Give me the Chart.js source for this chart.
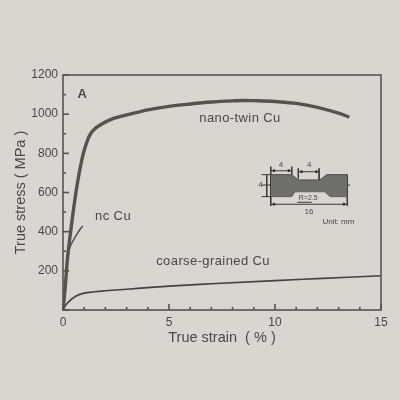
<!DOCTYPE html>
<html>
<head>
<meta charset="utf-8">
<script src="https://cdn.jsdelivr.net/npm/chart.js@4"></script>
<style>
  html, body { margin: 0; padding: 0; background: #d9d5cf; }
  canvas { display: block; filter: blur(0.6px); }
</style>
</head>
<body>
<canvas id="stressChart" width="400" height="400"></canvas>
<script>
const nanoStrain = [0, 0.1, 0.2, 0.36, 0.61, 0.8, 0.96, 1.15, 1.3, 1.55, 1.83, 2.3, 3.16, 4, 5, 6, 7, 8, 8.5, 9, 10, 11, 12, 13, 13.5];
const nanoStress = [0, 110, 250, 400, 600, 720, 800, 865, 900, 930, 950, 975, 1000, 1022, 1040, 1052, 1062, 1068, 1070, 1069, 1065, 1055, 1035, 1005, 985];

const ncStrain = [0, 0.1, 0.2, 0.3, 0.46, 0.7, 0.93];
const ncStress = [0, 130, 240, 310, 350, 395, 430];

const coarseStrain = [0, 0.1, 0.3, 0.6, 0.95, 1.5, 2, 3, 5, 7, 10, 12, 15];
const coarseStress = [0, 20, 45, 70, 85, 93, 98, 106, 122, 134, 150, 160, 175];

const xMajor = [0, 5, 10, 15];
const xMinor = [1, 2, 3, 4, 6, 7, 8, 9, 11, 12, 13, 14];
const yMajor = [0, 200, 400, 600, 800, 1000, 1200];
const yMinor = [100, 300, 500, 700, 900, 1100];

// inset specimen drawing, in axis units
const shapeTopX = [9.80, 10.79, 11.10, 12.12, 12.44, 13.41];
const shapeTopY = [691, 691, 664, 664, 691, 691];
const shapeBottomX = [9.80, 10.79, 10.94, 12.36, 12.59, 13.41];
const shapeBottomY = [579, 579, 604, 604, 579, 579];
const dimX = [9.37, 13.54, null, 9.80, 9.80, null, 13.41, 13.41, null, 10.79, 10.79, null, 11.10, 11.10, null, 12.08, 12.08, null, 9.80, 10.79, null, 11.10, 12.08, null, 9.80, 13.41, null, 9.61, 9.61, null, 9.37, 9.80, null, 9.37, 9.80, null, 11.05, 11.73];
const dimY = [638, 638, null, 732, 531, null, 691, 531, null, 732, 691, null, 723, 672, null, 723, 664, null, 711, 711, null, 706, 706, null, 540, 540, null, 691, 579, null, 691, 691, null, 579, 579, null, 550, 550];
const dotX = [9.95, 13.25, 9.95, 10.65, 11.25, 11.95];
const dotY = [540, 540, 711, 711, 706, 706];

const noteText = ["A", "nc Cu", "nano-twin Cu", "coarse-grained Cu", "4", "4", "4", "16", "R=2.5", "Unit: mm"];
const noteX = [0.9, 2.36, 8.35, 7.08, 10.28, 11.62, 9.32, 11.6, 11.57, 12.99];
const noteY = [1103, 480, 980, 250, 742, 742, 638, 502, 570, 451];
const noteFont = ["bold 13px", "13px", "13px", "13px", "8px", "8px", "8px", "8px", "7px", "8px"];
const noteSpacing = ["0px", "0.4px", "0.4px", "0.4px", "0px", "0px", "0px", "0px", "0px", "0px"];

const ink = "#4a4846";

function zip(xs, ys) {
  return xs.map((x, i) => ({ x: x, y: ys[i] }));
}

const frameAndNotes = {
  id: "frameAndNotes",
  afterDatasetsDraw(chart) {
    const c = chart.ctx;
    const area = chart.chartArea;
    const sx = chart.scales.x;
    const sy = chart.scales.y;

    c.save();
    c.strokeStyle = "#555350";
    c.lineWidth = 1.6;
    c.strokeRect(area.left, area.top, area.right - area.left, area.bottom - area.top);

    function tickX(v, len) {
      const p = sx.getPixelForValue(v);
      c.beginPath();
      c.moveTo(p, area.bottom);
      c.lineTo(p, area.bottom - len);
      c.stroke();
    }
    function tickY(v, len) {
      const p = sy.getPixelForValue(v);
      c.beginPath();
      c.moveTo(area.left, p);
      c.lineTo(area.left + len, p);
      c.stroke();
    }
    xMajor.forEach(v => tickX(v, 6));
    xMinor.forEach(v => tickX(v, 3));
    yMajor.forEach(v => tickY(v, 6));
    yMinor.forEach(v => tickY(v, 3));

    c.fillStyle = ink;
    c.textAlign = "center";
    c.textBaseline = "middle";
    noteText.forEach((t, i) => {
      c.font = noteFont[i] + " 'Liberation Sans', Arial, sans-serif";
      c.letterSpacing = noteSpacing[i];
      c.fillText(t, sx.getPixelForValue(noteX[i]), sy.getPixelForValue(noteY[i]));
    });
    c.restore();
  }
};

const canvasEl = document.getElementById("stressChart");

new Chart(canvasEl, {
  type: "scatter",
  data: {
    datasets: [
      { data: zip(nanoStrain, nanoStress), showLine: true, borderColor: "#555350", borderWidth: 3.4, pointRadius: 0, cubicInterpolationMode: "monotone" },
      { data: zip(ncStrain, ncStress), showLine: true, borderColor: "#4a4846", borderWidth: 1.4, pointRadius: 0, cubicInterpolationMode: "monotone" },
      { data: zip(coarseStrain, coarseStress), showLine: true, borderColor: "#45433f", borderWidth: 1.6, pointRadius: 0, cubicInterpolationMode: "monotone" },
      { data: zip(shapeTopX, shapeTopY), showLine: true, borderColor: "#4a4846", borderWidth: 1, pointRadius: 0, fill: "+1", backgroundColor: "#716f6c" },
      { data: zip(shapeBottomX, shapeBottomY), showLine: true, borderColor: "#4a4846", borderWidth: 1, pointRadius: 0 },
      { data: zip(dimX, dimY), showLine: true, spanGaps: false, borderColor: "#3a3836", borderWidth: 1, pointRadius: 0 },
      { data: zip(dotX, dotY), showLine: false, pointRadius: 1.4, pointBackgroundColor: "#2e2c2a", pointBorderWidth: 0 }
    ]
  },
  options: {
    responsive: false,
    animation: false,
    layout: { padding: { top: 75, right: 19, left: 12, bottom: 53 } },
    plugins: {
      legend: { display: false },
      tooltip: { enabled: false }
    },
    scales: {
      x: {
        type: "linear",
        min: 0,
        max: 15,
        grid: { display: false, tickLength: 0 },
        border: { display: false },
        ticks: {
          stepSize: 5,
          maxRotation: 0,
          padding: 5,
          color: ink,
          font: { family: "'Liberation Sans', Arial, sans-serif", size: 12 }
        },
        title: {
          display: true,
          text: "True strain  ( % )",
          color: ink,
          padding: { top: 3, bottom: 0 },
          font: { family: "'Liberation Sans', Arial, sans-serif", size: 14.5 }
        },
        afterFit(scale) { scale.height = 37; }
      },
      y: {
        type: "linear",
        min: 0,
        max: 1200,
        grid: { display: false, tickLength: 0 },
        border: { display: false },
        ticks: {
          stepSize: 200,
          padding: 5,
          color: ink,
          font: { family: "'Liberation Sans', Arial, sans-serif", size: 12 },
          callback: v => (v === 0 ? "" : String(v))
        },
        title: {
          display: true,
          text: "True stress ( MPa )",
          color: ink,
          padding: { top: 0, bottom: 2 },
          font: { family: "'Liberation Sans', Arial, sans-serif", size: 14.5 }
        },
        afterFit(scale) { scale.width = 51; }
      }
    }
  },
  plugins: [frameAndNotes]
});
</script>
</body>
</html>
